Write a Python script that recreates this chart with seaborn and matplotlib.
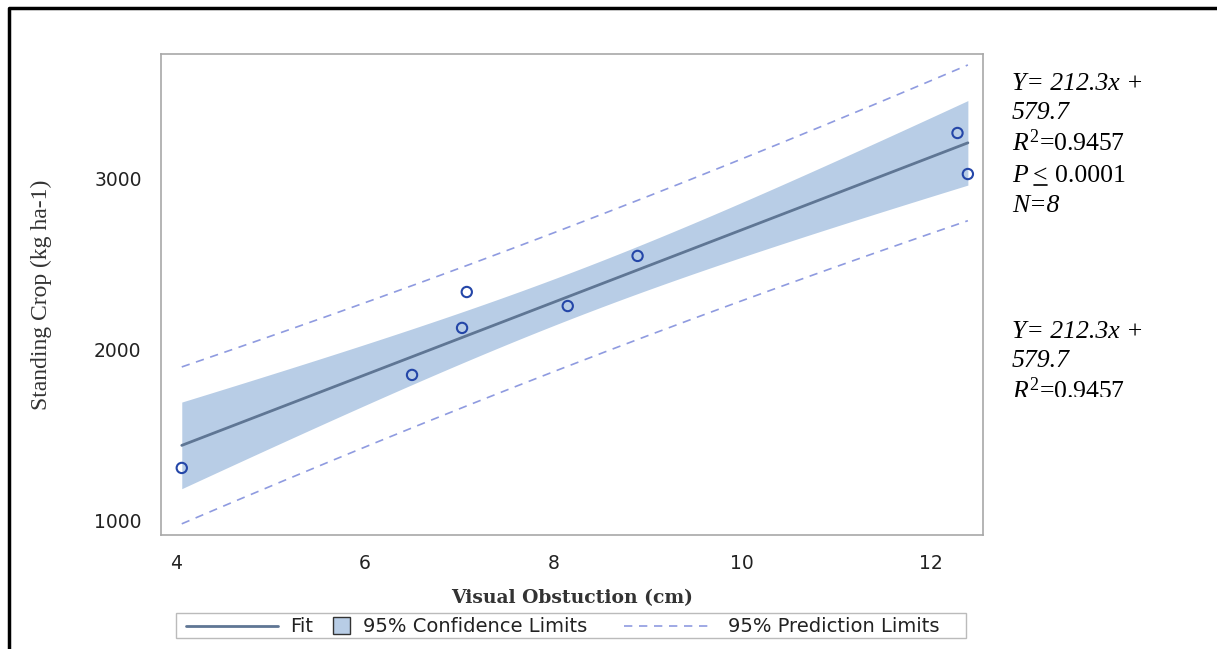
import numpy as np
import pandas as pd
import seaborn as sns
import matplotlib.pyplot as plt
from matplotlib.lines import Line2D
from matplotlib.patches import Rectangle
from matplotlib.transforms import Bbox

visual_obstruction = [4.06, 6.50, 7.03, 7.08, 8.15, 8.89, 12.28, 12.39]
standing_crop = [1310, 1854, 2129, 2339, 2257, 2550, 3269, 3029]

x_ticks = [4, 6, 8, 10, 12]
y_ticks = [1000, 2000, 3000]

legend_labels = ["Fit", "95% Confidence Limits", "95% Prediction Limits"]
eq_lines = ["Y= 212.3x +", "579.7"]
r2_text = "=0.9457"
p_text = "0.0001"
n_text = "N=8"

T_CRIT = 2.447  # t(0.975, df=6)

W, H = 1217, 649
band_col = "#b8cde6"
fit_col = "#5f7694"
pt_col = "#2446a8"
pred_col = "#8f9be0"
spine_col = "#a8a8a8"
dash = (0, (5, 4))

df = pd.DataFrame({"x": visual_obstruction, "y": standing_crop})

# ordinary least squares with confidence and prediction limits
n = len(df)
slope, intercept = np.polyfit(df.x, df.y, 1)
resid = df.y - (slope * df.x + intercept)
s = np.sqrt((resid ** 2).sum() / (n - 2))
sxx = ((df.x - df.x.mean()) ** 2).sum()
grid = np.linspace(df.x.min(), df.x.max(), 200)
fit = slope * grid + intercept
se_mean = s * np.sqrt(1 / n + (grid - df.x.mean()) ** 2 / sxx)
se_pred = s * np.sqrt(1 + 1 / n + (grid - df.x.mean()) ** 2 / sxx)
band = pd.DataFrame({"x": grid, "fit": fit,
                     "clo": fit - T_CRIT * se_mean, "chi": fit + T_CRIT * se_mean,
                     "plo": fit - T_CRIT * se_pred, "phi": fit + T_CRIT * se_pred})

sns.set_style("white")
fig = plt.figure(figsize=(W / 100, H / 100), dpi=100)
ax = fig.add_axes([0.1323, 0.1757, 0.6754, 0.7411])

ax.fill_between(band.x, band.clo, band.chi, color=band_col, linewidth=0)
sns.lineplot(data=band, x="x", y="fit", ax=ax, color=fit_col, linewidth=2)
sns.lineplot(data=band, x="x", y="phi", ax=ax, color=pred_col, linewidth=1.2,
             linestyle=dash)
sns.lineplot(data=band, x="x", y="plo", ax=ax, color=pred_col, linewidth=1.2,
             linestyle=dash)
sns.scatterplot(data=df, x="x", y="y", ax=ax, marker="o", s=55,
                facecolor="none", edgecolor=pt_col, linewidth=1.5, zorder=5)

ax.set_xlim(3.84, 12.55)
ax.set_ylim(918, 3731)
ax.set_xticks(x_ticks)
ax.set_yticks(y_ticks)
ax.tick_params(axis="both", direction="out", length=7, width=1, color=spine_col,
               labelsize=13.5, labelcolor="#222", pad=7)
for lab in ax.get_xticklabels() + ax.get_yticklabels():
    lab.set_family("DejaVu Sans")
for sp in ax.spines.values():
    sp.set_color(spine_col)
    sp.set_linewidth(1.2)

ax.set_xlabel("Visual Obstuction (cm)", family="DejaVu Serif", fontweight="bold",
              fontsize=13.5, color="#333", labelpad=11)
ax.set_ylabel("Standing Crop (kg ha-1)", family="Liberation Serif", fontsize=17,
              color="#333", labelpad=30)


# helpers working in pixel coords measured from the top-left corner
def fx(px):
    return px / W


def fy(py):
    return 1 - py / H


# legend strip drawn by hand so every key keeps its own width
ly = 625.5
fig.add_artist(Rectangle((fx(176), fy(638)), fx(966) - fx(176), fy(613) - fy(638),
                         transform=fig.transFigure, facecolor="white",
                         edgecolor="#bbbbbb", linewidth=1))
fig.add_artist(Line2D([fx(186), fx(278)], [fy(ly), fy(ly)], color=fit_col,
                      linewidth=2, transform=fig.transFigure))
fig.add_artist(Rectangle((fx(333), fy(634)), fx(350) - fx(333), fy(617) - fy(634),
                         transform=fig.transFigure, facecolor=band_col,
                         edgecolor="#333", linewidth=1))
fig.add_artist(Line2D([fx(624), fx(710)], [fy(ly), fy(ly)], color=pred_col,
                      linewidth=1.2, linestyle=dash, transform=fig.transFigure))
for px, lab in zip([290, 363, 728], legend_labels):
    fig.text(fx(px), fy(ly - 1), lab, family="DejaVu Sans", fontsize=14,
             color="#222", va="center_baseline", ha="left")

# annotation blocks at the right
plt.rcParams["mathtext.fontset"] = "custom"
plt.rcParams["mathtext.it"] = "Liberation Serif:italic"
plt.rcParams["mathtext.rm"] = "Liberation Serif"
fs = 18.5
clip = Bbox.from_extents(0, H - 397, W, H)


def put(px_x, px_y, txt, clip_it=False, **kw):
    t = fig.text(fx(px_x), fy(px_y), txt, fontsize=fs, family="Liberation Serif",
                 va="baseline", ha="left", color="black", **kw)
    if clip_it:
        t.set_clip_box(clip)
        t.set_clip_on(True)
    return t


for base, clip_it in [(0, False), (248, True)]:
    put(1012, 90 + base, eq_lines[0], clip_it, style="italic")
    put(1012, 119 + base, eq_lines[1], clip_it, style="italic")
    put(1012, 151 + base, r"$R^{2}$" + r2_text, clip_it)
put(1012, 182, "P", style="italic")
put(1033, 182, "<")
fig.add_artist(Line2D([fx(1034), fx(1047)], [fy(185), fy(185)], color="black",
                      linewidth=1.2, transform=fig.transFigure))
put(1055, 182, p_text)
put(1012, 212, n_text, style="italic")

# outer frame
fig.add_artist(Line2D([fx(9), fx(9), 1], [0, fy(8), fy(8)],
                      color="black", linewidth=2.5, transform=fig.transFigure))

fig.savefig("out.png", dpi=100)
